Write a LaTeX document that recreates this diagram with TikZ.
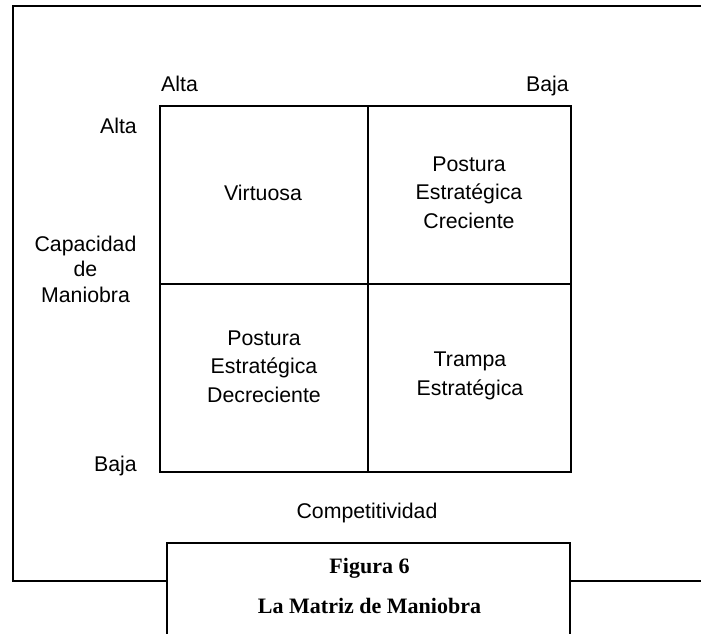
\documentclass[tikz,border=0pt]{standalone}
\usepackage{fontspec}
\setmainfont{Liberation Sans}
\newfontfamily\capfont{Liberation Serif}
\begin{document}
\begin{tikzpicture}[x=1pt,y=-1pt,
  lbl/.style={font=\fontsize{21.3}{28.5}\selectfont, inner sep=0pt, align=center},
  cell/.style={draw, line width=2.4pt, inner sep=0pt, anchor=north west},
  frameline/.style={line width=2.5pt},
  captxt/.style={font=\capfont\bfseries\fontsize{22}{26}\selectfont, inner sep=0pt, anchor=base}]
\useasboundingbox (0,0) rectangle (701,634);
% outer frame
\coordinate (ftr) at (701,6);
\coordinate (ftl) at (13,6);
\coordinate (fbl) at (13,581);
\coordinate (fbr) at (701,581);
% caption box
\coordinate (cbl) at (167,634);
\coordinate (ctl) at (167,543);
\coordinate (ctr) at (570,543);
\coordinate (cbr) at (570,634);
\coordinate (fbm1) at (167,581);
\coordinate (fbm2) at (570,581);
\draw[frameline] (ftr) -- (ftl) -- (fbl) -- (fbm1);
\draw[frameline] (fbm2) -- (fbr);
\draw[frameline] (cbl) -- (ctl) -- (ctr) -- (cbr);
% grid cells
\node[cell, minimum width=208pt, minimum height=178pt] (c11) at (159,105) {};
\node[cell, minimum width=203pt, minimum height=178pt] (c12) at (367,105) {};
\node[cell, minimum width=208pt, minimum height=188pt] (c21) at (159,283) {};
\node[cell, minimum width=203pt, minimum height=188pt] (c22) at (367,283) {};
% axis labels
\node[lbl, anchor=base west] (talta) at (161,91) {Alta};
\node[lbl, anchor=base east] (tbaja) at (569,91) {Baja};
\node[lbl, anchor=base east] (lalta) at (137,133) {Alta};
\node[lbl, anchor=base east] (lbaja) at (137,471) {Baja};
\node[lbl, anchor=base, font=\fontsize{21.3}{25.5}\selectfont] (cap) at (85.5,302) {Capacidad\\de\\Maniobra};
\node[lbl, anchor=base] (comp) at (367,518) {Competitividad};
% cell texts
\node[lbl, anchor=base] (t11) at (263,200) {Virtuosa};
\node[lbl, anchor=base] (t12) at (469,228) {Postura\\Estratégica\\Creciente};
\node[lbl, anchor=base] (t21) at (264,402) {Postura\\Estratégica\\Decreciente};
\node[lbl, anchor=base] (t22) at (470,395) {Trampa\\Estratégica};
% caption
\node[captxt] (fig) at (369.5,573) {Figura 6};
\node[captxt] (tit) at (369.5,613) {La Matriz de Maniobra};
\end{tikzpicture}
\end{document}
